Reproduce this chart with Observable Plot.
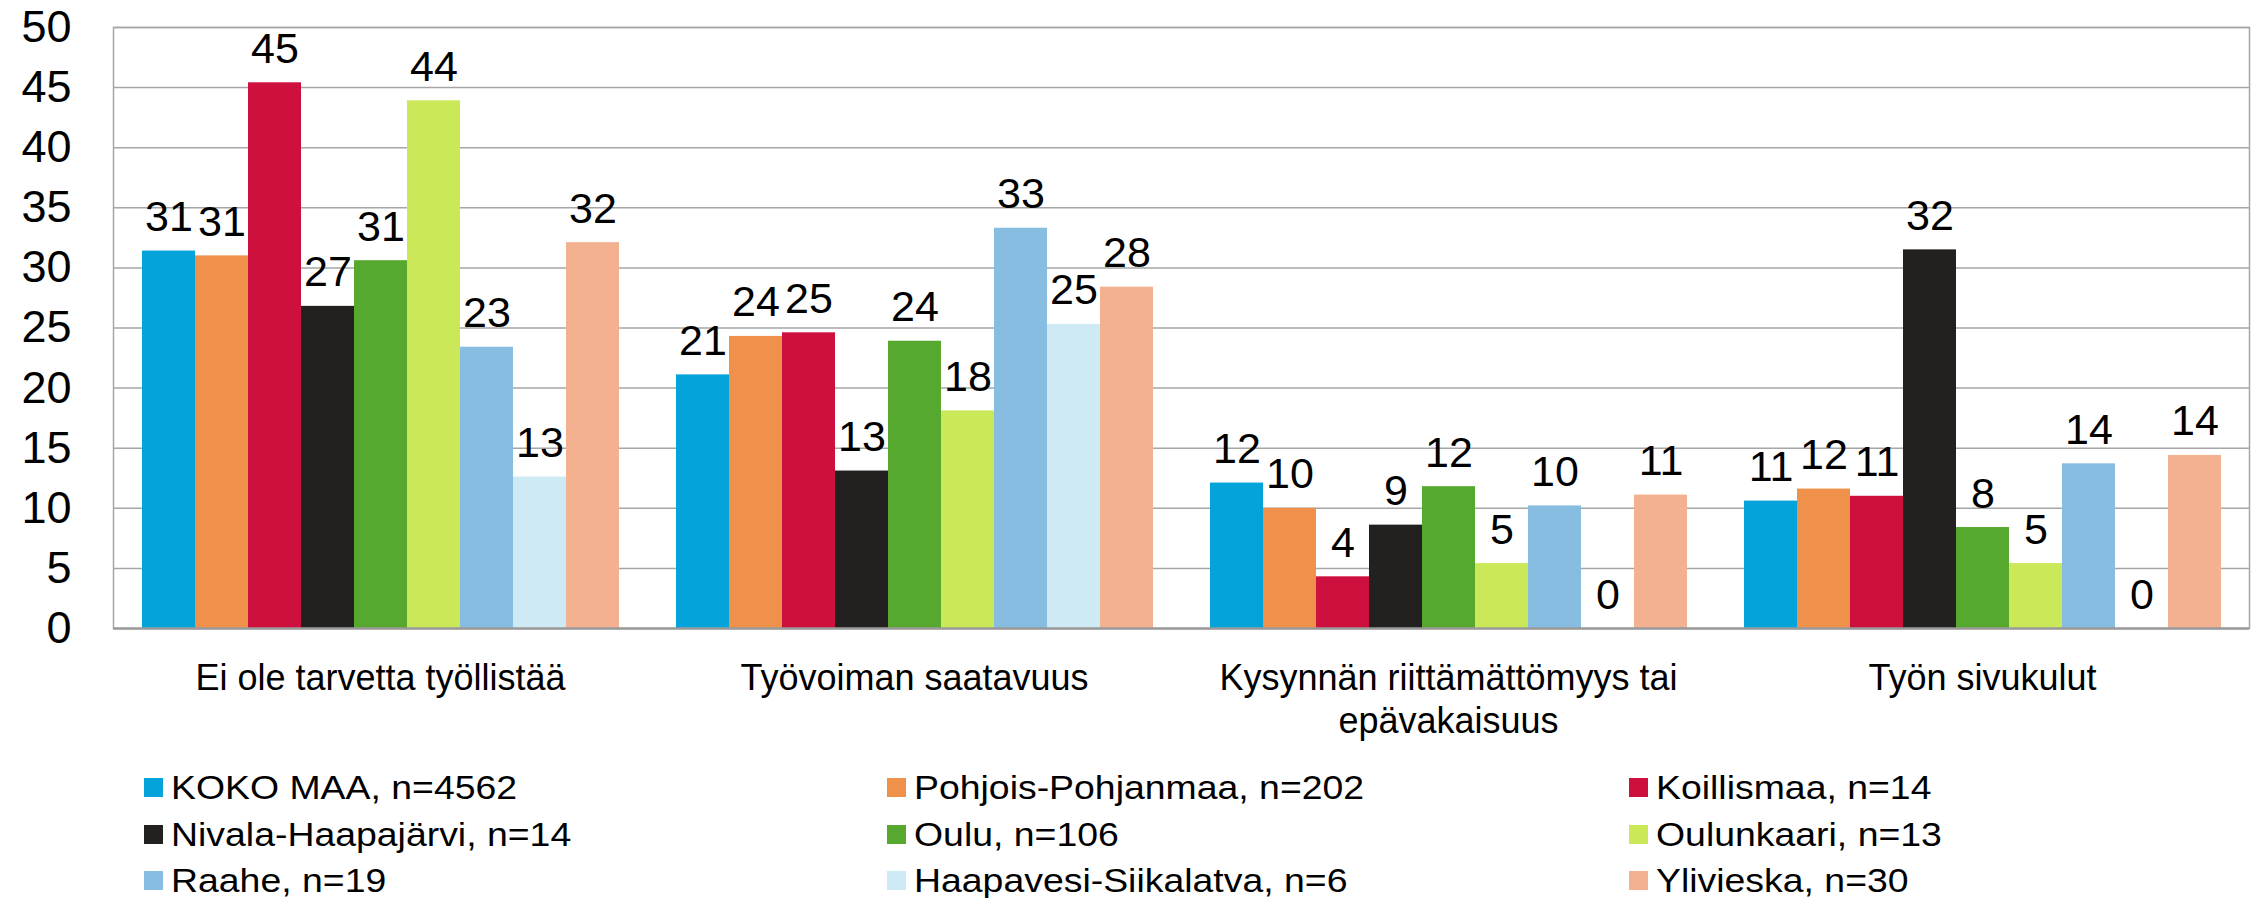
<!DOCTYPE html>
<html>
<head>
<meta charset="utf-8">
<script src="https://cdn.jsdelivr.net/npm/d3@7"></script>
<script src="https://cdn.jsdelivr.net/npm/@observablehq/plot@0.6"></script>
<style>
  html, body { margin: 0; padding: 0; background: #fff; }
  body { width: 2260px; height: 898px; overflow: hidden; font-family: Arial, "Liberation Sans", sans-serif; }
  #chart svg { display: block; }
  #legend {
    display: grid;
    grid-template-columns: repeat(3, 742.5px);
    grid-auto-rows: 46.5px;
    padding-left: 144px;
    margin-top: 4.5px;
    font-size: 34px;
    color: #000;
  }
  .item { display: flex; align-items: center; white-space: nowrap; }
  .sw { width: 19px; height: 19px; margin-right: 8px; flex: none; }
  .lt { display: inline-block; transform: scaleX(1.1); transform-origin: left center; }
</style>
</head>
<body>
<div id="chart"></div>
<div id="legend"></div>
<script>
// Categories (x groups)
const categories = [
  "Ei ole tarvetta työllistää",
  "Työvoiman saatavuus",
  "Kysynnän riittämättömyys tai epävakaisuus",
  "Työn sivukulut"
];
const categoryLabels = [
  "Ei ole tarvetta työllistää",
  "Työvoiman saatavuus",
  "Kysynnän riittämättömyys tai\nepävakaisuus",
  "Työn sivukulut"
];

// Series
const series = [
  "KOKO MAA", "Pohjois-Pohjanmaa", "Koillismaa",
  "Nivala-Haapajärvi", "Oulu", "Oulunkaari",
  "Raahe", "Haapavesi-Siikalatva", "Ylivieska"
];
const seriesN = [4562, 202, 14, 14, 106, 13, 19, 6, 30];
const colors = [
  "#04A3D9", "#F0914B", "#CE103E",
  "#222120", "#57A82E", "#CAE858",
  "#88BDE2", "#CDEAF5", "#F3B18F"
];

// Values per series, in category order (%)
const kokoMaa      = [31.4, 21.1, 12.1, 10.6];
const pohjoisPohj  = [31.0, 24.3, 10.0, 11.6];
const koillismaa   = [45.4, 24.6, 4.3, 11.0];
const nivalaHaapa  = [26.8, 13.1, 8.6, 31.5];
const oulu         = [30.6, 23.9, 11.8, 8.4];
const oulunkaari   = [43.9, 18.1, 5.4, 5.4];
const raahe        = [23.4, 33.3, 10.2, 13.7];
const haapavesiS   = [12.6, 25.3, 0, 0];
const ylivieska    = [32.1, 28.4, 11.1, 14.4];

const yTicks = [0, 5, 10, 15, 20, 25, 30, 35, 40, 45, 50];

const valueArrays = [kokoMaa, pohjoisPohj, koillismaa, nivalaHaapa, oulu, oulunkaari, raahe, haapavesiS, ylivieska];
const rows = [];
categories.forEach((cat, ci) => {
  series.forEach((s, si) => {
    rows.push({cat, series: s, value: valueArrays[si][ci]});
  });
});

const grid = "#A6A6A6";

const chart = Plot.plot({
  width: 2260,
  height: 760,
  marginLeft: 112,
  marginRight: 10,
  marginTop: 27,
  marginBottom: 132,
  style: {fontFamily: "Arial, 'Liberation Sans', sans-serif", color: "#000", background: "#fff"},
  fx: {domain: categories, padding: 0, label: null, axis: null},
  x: {domain: series, paddingInner: 0, paddingOuter: 0.512, axis: null},
  y: {domain: [0, 50], axis: null},
  color: {domain: series, range: colors},
  marks: [
    Plot.ruleY(yTicks.filter(d => d > 0), {stroke: grid, strokeWidth: 1.5}),
    Plot.frame({facet: "super", stroke: grid, strokeWidth: 1.5}),
    Plot.barY(rows, {fx: "cat", x: "series", y: "value", fill: "series"}),
    Plot.ruleY([0], {stroke: "#9A9A9A", strokeWidth: 2.5}),
    Plot.text(rows, {
      fx: "cat", x: "series", y: "value",
      text: d => d3.format(".0f")(d.value),
      lineAnchor: "bottom", dy: -20, fontSize: 43, fill: "#000"
    }),
    Plot.axisY({ticks: yTicks, tickSize: 0, tickPadding: 42, fontSize: 45, label: null, tickFormat: d => String(d)}),
    Plot.axisFx({
      anchor: "bottom", tickSize: 0, tickPadding: 31, fontSize: 36, lineHeight: 1.2, label: null,
      tickFormat: d => categoryLabels[categories.indexOf(d)]
    })
  ]
});
document.getElementById("chart").appendChild(chart);

// Legend (3 columns, row-major order)
const legend = document.getElementById("legend");
series.forEach((s, i) => {
  const item = document.createElement("div");
  item.className = "item";
  const sw = document.createElement("span");
  sw.className = "sw";
  sw.style.background = colors[i];
  const t = document.createElement("span");
  t.className = "lt";
  t.textContent = `${s}, n=${seriesN[i]}`;
  item.appendChild(sw);
  item.appendChild(t);
  legend.appendChild(item);
});
</script>
</body>
</html>
